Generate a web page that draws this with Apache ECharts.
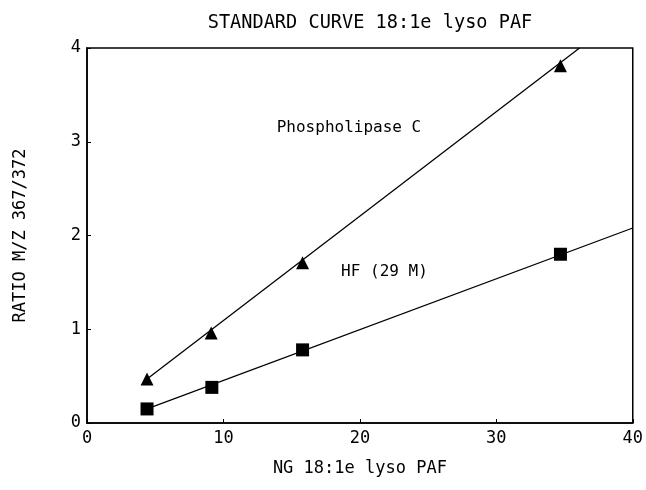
<!DOCTYPE html>
<html>
<head>
<meta charset="utf-8">
<script src="https://cdn.jsdelivr.net/npm/echarts@6/dist/echarts.min.js"></script>
<style>
html,body{margin:0;padding:0;background:#fff;}
#c{width:646px;height:490px;}
</style>
</head>
<body>
<div id="c"></div>
<script>
// Data
const titleText = 'STANDARD CURVE 18:1e lyso PAF';
const xName = 'NG 18:1e lyso PAF';
const yName = 'RATIO M/Z 367/372';
const xTicks = [0, 10, 20, 30, 40];
const yTicks = [0, 1, 2, 3, 4];

const triX = [4.4, 9.1, 15.8, 34.7];
const triY = [0.47, 0.96, 1.71, 3.81];
const sqX = [4.4, 9.15, 15.8, 34.7];
const sqY = [0.15, 0.38, 0.78, 1.80];

const fitTriX = [4.4, 36.1];
const fitTriY = [0.47, 4.0];
const fitSqX = [4.4, 40];
const fitSqY = [0.15, 2.08];

const labelTri = 'Phospholipase C';
const labelTriPos = [19.2, 3.15];
const labelSq = 'HF (29 M)';
const labelSqPos = [21.8, 1.61];

const zip = (a, b) => a.map((v, i) => [v, b[i]]);
const FONT = '"DejaVu Sans Mono", monospace';

const chart = echarts.init(document.getElementById('c'), null, {renderer: 'canvas'});
chart.setOption({
  animation: false,
  backgroundColor: '#fff',
  title: {
    text: titleText, left: 365, top: 9, textAlign: 'center',
    textStyle: {fontFamily: FONT, fontSize: 18.6, fontWeight: 'normal', color: '#000'}
  },
  grid: {left: 87, right: 10, top: 48, bottom: 67, show: true, borderColor: '#000', borderWidth: 1.5, backgroundColor: 'transparent'},
  xAxis: {
    type: 'value', min: xTicks[0], max: xTicks[xTicks.length - 1], interval: 10,
    name: xName, nameLocation: 'middle', nameGap: 37,
    nameTextStyle: {fontFamily: FONT, fontSize: 17, color: '#000'},
    axisLine: {show: true, lineStyle: {color: '#000', width: 1.5}},
    axisTick: {show: true, inside: true, length: 4, lineStyle: {color: '#000'}},
    axisLabel: {fontFamily: FONT, fontSize: 17, color: '#000', margin: 7},
    splitLine: {show: false}
  },
  yAxis: {
    type: 'value', min: yTicks[0], max: yTicks[yTicks.length - 1], interval: 1,
    name: yName, nameLocation: 'middle', nameGap: 58, nameRotate: 90,
    nameTextStyle: {fontFamily: FONT, fontSize: 17, color: '#000'},
    axisLine: {show: true, lineStyle: {color: '#000', width: 1.5}},
    axisTick: {show: true, inside: true, length: 4, lineStyle: {color: '#000'}},
    axisLabel: {fontFamily: FONT, fontSize: 17, color: '#000', margin: 6},
    splitLine: {show: false}
  },
  series: [
    {type: 'line', data: zip(fitTriX, fitTriY), symbol: 'none', lineStyle: {color: '#000', width: 1.3, opacity: 1}, silent: true, z: 2},
    {type: 'line', data: zip(fitSqX, fitSqY), symbol: 'none', lineStyle: {color: '#000', width: 1.3, opacity: 1}, silent: true, z: 2},
    {type: 'scatter', data: zip(triX, triY), symbol: 'triangle', symbolSize: [13, 13], itemStyle: {color: '#000', opacity: 1}, z: 3},
    {type: 'scatter', data: zip(sqX, sqY), symbol: 'rect', symbolSize: [13, 13], itemStyle: {color: '#000', opacity: 1}, z: 3},
    {type: 'scatter', data: [labelTriPos], symbolSize: 0, itemStyle: {opacity: 1},
      label: {show: true, position: 'inside', formatter: labelTri, fontFamily: FONT, fontSize: 16, color: '#000', opacity: 1}},
    {type: 'scatter', data: [labelSqPos], symbolSize: 0, itemStyle: {opacity: 1},
      label: {show: true, position: 'inside', formatter: labelSq, fontFamily: FONT, fontSize: 16, color: '#000', opacity: 1}}
  ]
});
</script>
</body>
</html>
